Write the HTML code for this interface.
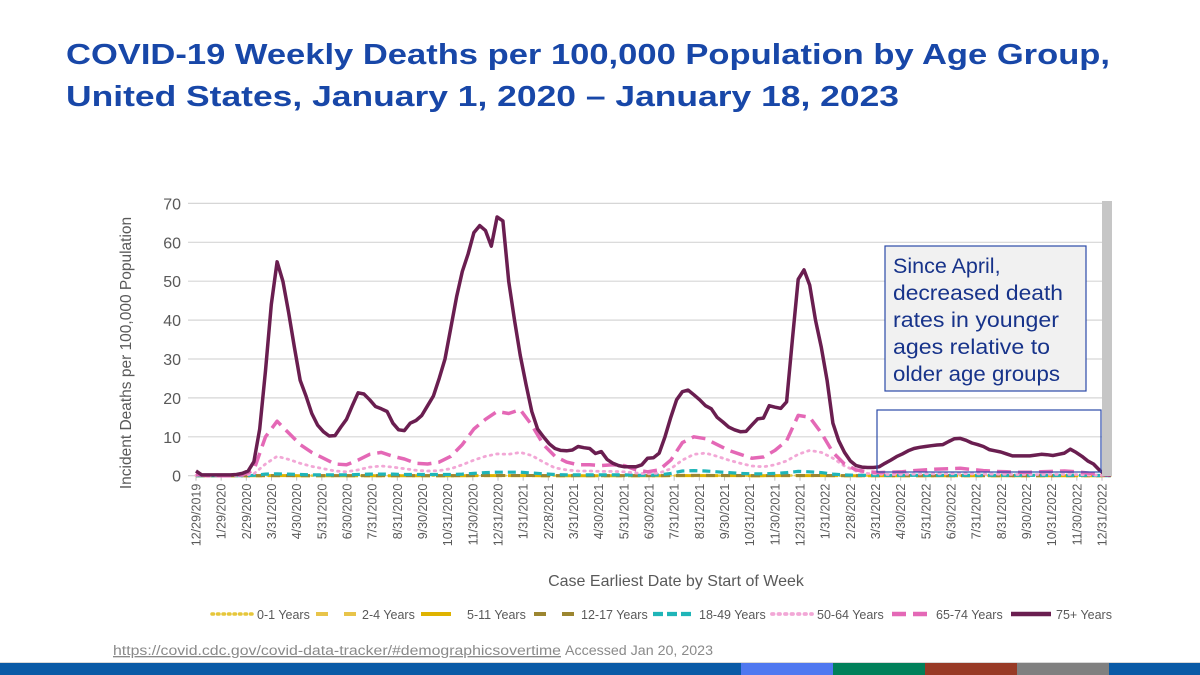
<!DOCTYPE html>
<html><head><meta charset="utf-8"><style>
body{margin:0;background:#fff;}
svg{display:block;font-family:"Liberation Sans",sans-serif;}
</style></head><body>
<svg id="chart" width="1200" height="675" viewBox="0 0 1200 675">
<text x="66" y="64" font-size="29" font-weight="bold" fill="#1847a8" textLength="1044" lengthAdjust="spacingAndGlyphs">COVID-19 Weekly Deaths per 100,000 Population by Age Group,</text>
<text x="66" y="106" font-size="29" font-weight="bold" fill="#1847a8" textLength="833" lengthAdjust="spacingAndGlyphs">United States, January 1, 2020 – January 18, 2023</text>
<g id="grid"></g><g id="axes"></g><g id="series"></g>
<rect x="1102" y="201" width="10" height="275" fill="#c6c6c6"/>
<rect x="877" y="410" width="224" height="62" fill="none" stroke="#2b4aa8" stroke-width="1.2"/>
<g>
<rect x="885" y="246" width="201" height="145" fill="#f1f1f1" stroke="#2b4aa8" stroke-width="1.2"/>
<text x="893" y="273" font-size="21.5" fill="#17338a">Since April,</text>
<text x="893" y="300" font-size="21.5" fill="#17338a" textLength="170" lengthAdjust="spacingAndGlyphs">decreased death</text>
<text x="893" y="327" font-size="21.5" fill="#17338a" textLength="166" lengthAdjust="spacingAndGlyphs">rates in younger</text>
<text x="893" y="354" font-size="21.5" fill="#17338a" textLength="157" lengthAdjust="spacingAndGlyphs">ages relative to</text>
<text x="893" y="381" font-size="21.5" fill="#17338a" textLength="167" lengthAdjust="spacingAndGlyphs">older age groups</text>
</g>
<text transform="translate(131,353) rotate(-90)" text-anchor="middle" font-size="15.5" fill="#595959">Incident Deaths per 100,000 Population</text>
<text x="676" y="586" text-anchor="middle" font-size="16" fill="#595959">Case Earliest Date by Start of Week</text>
<g id="legend"></g>
<text x="113" y="655" font-size="13.5" fill="#8a8a8a" text-decoration="underline" textLength="448" lengthAdjust="spacingAndGlyphs">https://covid.cdc.gov/covid-data-tracker/#demographicsovertime</text>
<text x="565" y="655" font-size="13.5" fill="#8a8a8a" textLength="148" lengthAdjust="spacingAndGlyphs">Accessed  Jan 20, 2023</text>
<g>
<rect x="0" y="662" width="1200" height="1" fill="#d8d8d8"/>
<rect x="0" y="663" width="1200" height="12" fill="#0a5aa6"/>
<rect x="741" y="663" width="92" height="12" fill="#4f78f0"/>
<rect x="833" y="663" width="92" height="12" fill="#00805a"/>
<rect x="925" y="663" width="92" height="12" fill="#983a26"/>
<rect x="1017" y="663" width="92" height="12" fill="#808080"/>
</g>
</svg>
<script>
const yTicks=[0,10,20,30,40,50,60,70];
const xTickLabels=["12/29/2019","1/29/2020","2/29/2020","3/31/2020","4/30/2020","5/31/2020","6/30/2020","7/31/2020","8/31/2020","9/30/2020","10/31/2020","11/30/2020","12/31/2020","1/31/2021","2/28/2021","3/31/2021","4/30/2021","5/31/2021","6/30/2021","7/31/2021","8/31/2021","9/30/2021","10/31/2021","11/30/2021","12/31/2021","1/31/2022","2/28/2022","3/31/2022","4/30/2022","5/31/2022","6/30/2022","7/31/2022","8/31/2022","9/30/2022","10/31/2022","11/30/2022","12/31/2022"];
// weekly values, week 0 = 12/29/2019
const age75plus=[1.2,0.2,0.2,0.2,0.2,0.2,0.2,0.3,0.6,1.2,3.6,12,27,44,55,50,42,33,24.5,20.5,16,13,11.3,10.2,10.3,12.5,14.5,18,21.3,21,19.5,17.8,17.2,16.5,13.5,11.8,11.6,13.5,14.2,15.5,18,20.5,25,30,38,46,52.5,57,62.5,64.3,63,59,66.5,65.5,50,40,31,23.5,16.5,12,10,8.2,7,6.5,6.4,6.6,7.5,7.2,7,5.7,6.2,4.2,3.2,2.6,2.3,2.3,2.3,2.8,4.5,4.6,5.8,10,15,19.5,21.6,22,20.8,19.5,18,17.2,15,13.8,12.5,11.8,11.3,11.4,13,14.6,14.8,18,17.6,17.3,19,35,50.5,52.9,49,40,33,24.5,13.5,9,6,3.8,2.6,2.2,2.1,2.1,2.3,3.2,4,4.9,5.6,6.4,7,7.3,7.5,7.7,7.9,8,8.8,9.5,9.6,9.1,8.4,8,7.5,6.7,6.4,6.1,5.6,5.1,5.1,5.1,5.1,5.3,5.5,5.4,5.2,5.5,5.8,6.8,6,5,3.8,3,1.5,0.3,0.2];
// bi-weekly values (every 2 weeks from week 0)
const age65to74=[0.3,0,0,0,0.2,1.5,10,14,11,8,6,4.5,3,2.8,4,5.5,6,5,4.3,3.2,3,3.5,5,8,12,14.5,16.5,16,17,13,8,5,3.5,2.8,2.8,2.6,2.8,2.6,1.5,1,1.5,4,8.5,10,9.5,8,6.5,5.5,4.5,4.8,6.5,9,15.5,15,11,6,3,1.5,1,0.8,0.9,1,1.3,1.5,1.7,1.8,1.9,1.6,1.3,1.1,1,0.9,0.9,1,1.1,1.2,1,0.7,0.3,0.1];
const age50to64=[0.1,0,0,0,0.1,0.5,3,5,4.2,3.2,2.4,1.8,1.2,1,1.5,2.2,2.5,2.2,1.8,1.4,1.2,1.3,1.8,2.8,4,5,5.6,5.5,6,5.2,3.5,2,1.5,1.2,1.2,1.1,1.1,1,0.7,0.5,0.7,1.8,4,5.5,5.8,5,4,3.2,2.5,2.3,2.8,3.8,5.5,6.5,6,4.5,2.5,1.2,0.6,0.4,0.3,0.35,0.4,0.45,0.5,0.5,0.55,0.5,0.45,0.4,0.35,0.3,0.3,0.3,0.35,0.35,0.3,0.2,0.1,0.05];
const age18to49=[0,0,0,0,0,0.1,0.4,0.5,0.4,0.3,0.2,0.2,0.2,0.2,0.3,0.4,0.4,0.4,0.3,0.3,0.3,0.3,0.3,0.4,0.6,0.8,0.9,0.9,0.9,0.7,0.5,0.3,0.2,0.2,0.2,0.2,0.2,0.2,0.1,0.1,0.2,0.6,1.2,1.3,1.2,1,0.8,0.6,0.5,0.5,0.6,0.8,1.1,1,0.8,0.4,0.2,0.1,0.1,0.1,0.1,0.1,0.1,0.1,0.1,0.1,0.1,0.1,0.1,0.1,0.1,0.1,0.1,0.1,0.1,0.1,0.1,0.1,0.05,0];
const age12to17=[0,0,0,0,0,0,0.02,0.03,0.03,0.02,0.02,0.02,0.02,0.02,0.03,0.03,0.03,0.03,0.02,0.02,0.02,0.02,0.02,0.03,0.04,0.05,0.05,0.05,0.05,0.04,0.03,0.02,0.02,0.02,0.02,0.02,0.02,0.02,0.02,0.02,0.02,0.04,0.07,0.08,0.07,0.06,0.05,0.04,0.03,0.03,0.04,0.05,0.06,0.06,0.05,0.03,0.02,0.02,0.02,0.02,0.02,0.02,0.02,0.02,0.02,0.02,0.02,0.02,0.02,0.02,0.02,0.02,0.02,0.02,0.02,0.02,0.02,0.02,0.02,0];
const age5to11=[0,0,0,0,0,0,0.01,0.02,0.02,0.01,0.01,0.01,0.01,0.01,0.01,0.01,0.01,0.01,0.01,0.01,0.01,0.01,0.01,0.01,0.02,0.02,0.02,0.02,0.02,0.02,0.01,0.01,0.01,0.01,0.01,0.01,0.01,0.01,0.01,0.01,0.01,0.02,0.03,0.03,0.03,0.02,0.02,0.02,0.01,0.01,0.02,0.02,0.03,0.03,0.02,0.02,0.01,0.01,0.01,0.01,0.01,0.01,0.01,0.01,0.01,0.01,0.01,0.01,0.01,0.01,0.01,0.01,0.01,0.01,0.01,0.01,0.01,0.01,0.01,0];
const age2to4=age5to11.map(v=>v*0.8);
const age0to1=age5to11.map(v=>v*1.5);
const seriesNames=["0-1 Years","2-4 Years","5-11 Years","12-17 Years","18-49 Years","50-64 Years","65-74 Years","75+ Years"];

const NS="http://www.w3.org/2000/svg";
const x0=196, pxPerWeek=5.79, y0=475.7, pxPerUnit=3.89;
const xScale=w=>x0+w*pxPerWeek;
const yScale=v=>y0-v*pxPerUnit;
function mk(tag,attrs,parent){const e=document.createElementNS(NS,tag);for(const k in attrs)e.setAttribute(k,attrs[k]);parent.appendChild(e);return e;}
const grid=document.getElementById('grid'),axes=document.getElementById('axes'),ser=document.getElementById('series'),leg=document.getElementById('legend');
yTicks.forEach(t=>{
  const y=yScale(t);
  if(t>0){const l=mk('line',{x1:188,x2:1112,y1:y,y2:y,stroke:'#d6d6d6','stroke-width':1.2},grid);
  
  }
  const tx=mk('text',{x:181,y:y+6,'text-anchor':'end','font-size':16,fill:'#595959'},axes);
  tx.textContent=t;
  
  
});
const ax=mk('line',{x1:188,x2:1112,y1:y0,y2:y0,stroke:'#d0d0d0','stroke-width':1.2},axes);


const monthPx=(1102-196)/(xTickLabels.length-1);
xTickLabels.forEach((lab,i)=>{
  const x=196+i*monthPx;
  const tk=mk('line',{x1:x,x2:x,y1:y0,y2:y0+5,stroke:'#bfbfbf'},axes);
  
  
  const t=mk('text',{transform:`translate(${x+4.5},${y0+8}) rotate(-90)`,'text-anchor':'end','font-size':12.5,fill:'#595959'},axes);
  t.textContent=lab;
  
  
});
const styles=[
 {c:'#e6c63a',w:2.5,d:'1.5 4',cap:'round'},
 {c:'#e8c44a',w:3,d:'9 6'},
 {c:'#dfb300',w:3,d:'18 6'},
 {c:'#9c8630',w:3,d:'9 6'},
 {c:'#1fb5b8',w:3.2,d:'8 5'},
 {c:'#f2a7d6',w:2.8,d:'1.5 5',cap:'round'},
 {c:'#e468b6',w:3.5,d:'14 7'},
 {c:'#6a1e50',w:3.5,d:''}];
const data=[[age0to1,2],[age2to4,2],[age5to11,2],[age12to17,2],[age18to49,2],[age50to64,2],[age65to74,2],[age75plus,1]];
data.forEach(([vals,step],i)=>{
  const pts=vals.map((v,k)=>xScale(k*step).toFixed(1)+','+yScale(v).toFixed(1)).join(' ');
  const s=styles[i];
  const p=mk('polyline',{points:pts,fill:'none',stroke:s.c,'stroke-width':s.w,'stroke-linejoin':'round','stroke-linecap':s.cap||'butt'},ser);
  if(s.d)p.setAttribute('stroke-dasharray',s.d);
  
  
});
const legX=[212,316,421,534,653,772,892,1011];
const legTextX=[257,362,467,581,699,817,936,1056];
seriesNames.forEach((n,i)=>{
  const s=styles[i];
  const g=mk('g',{},leg);
  
  
  const len=i===2?30:40;
  const l=mk('line',{x1:legX[i],x2:legX[i]+len,y1:614,y2:614,stroke:s.c,'stroke-width':s.w+1,'stroke-linecap':s.cap||'butt'},g);
  if(i===1||i===3)l.setAttribute('stroke-dasharray','12 16');
  else if(i===4)l.setAttribute('stroke-dasharray','10 4');
  else if(i!==2&&s.d)l.setAttribute('stroke-dasharray',s.d);
  const t=mk('text',{x:legTextX[i],y:619,'font-size':12.5,fill:'#595959'},g);
  t.textContent=n;
});
</script>
</body></html>
